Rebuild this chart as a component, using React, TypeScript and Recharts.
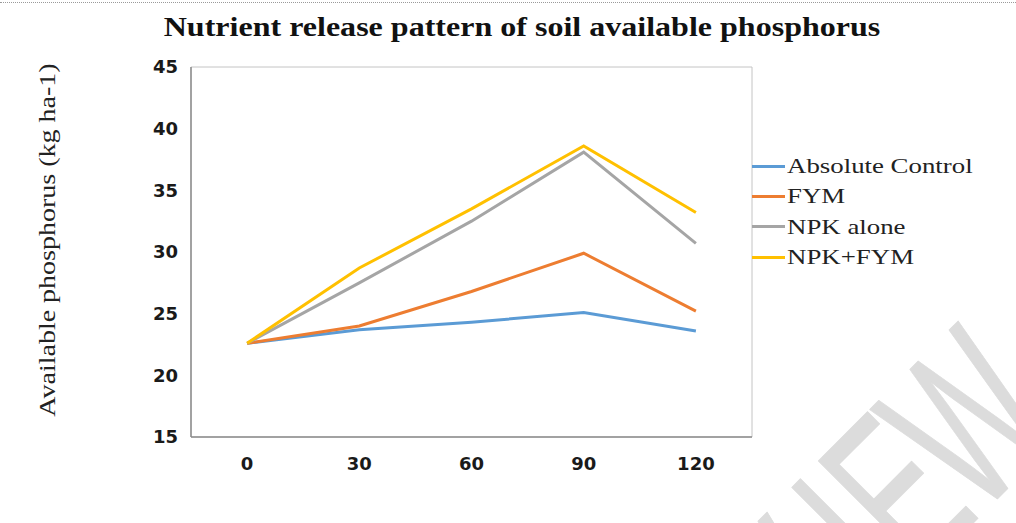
import { LineChart, Line, XAxis, YAxis, ReferenceArea } from 'recharts'

// days after incubation
const days = ['0', '30', '60', '90', '120']

// available P (kg ha-1)
const absoluteControl = [22.6, 23.7, 24.3, 25.1, 23.6]
const fym = [22.6, 24.0, 26.8, 29.9, 25.2]
const npkAlone = [22.6, 27.5, 32.5, 38.1, 30.7]
const npkFym = [22.6, 28.7, 33.5, 38.6, 33.2]

const yTicks = [15, 20, 25, 30, 35, 40, 45]

const SERIES = [
  { key: 'control', name: 'Absolute Control', color: '#5b9bd5', values: absoluteControl },
  { key: 'fym', name: 'FYM', color: '#ed7d31', values: fym },
  { key: 'npk', name: 'NPK alone', color: '#a5a5a5', values: npkAlone },
  { key: 'npkfym', name: 'NPK+FYM', color: '#ffc000', values: npkFym }
]

// visible part of the "REVIEW" watermark, offset along the rotated baseline
const WATERMARK = [
  { ch: 'V', at: -160 },
  { ch: 'I', at: -49 },
  { ch: 'E', at: -10 },
  { ch: 'W', at: 73 }
]

const data = days.map((day, i) => {
  const row: Record<string, string | number> = { day }
  SERIES.forEach(s => {
    row[s.key] = s.values[i]
  })
  return row
})

const tickStyle = { fill: '#1a1a1a', fontSize: 18, fontWeight: 700, fontFamily: '"DejaVu Sans", sans-serif' }

function LegendBox() {
  return (
    <div
      style={{
        position: 'absolute',
        left: 752,
        top: 151,
        fontFamily: '"Liberation Serif", serif',
        fontSize: 22,
        color: '#222'
      }}
    >
      {SERIES.map(s => (
        <div key={s.key} style={{ display: 'flex', alignItems: 'center', height: 30.3 }}>
          <div style={{ width: 33, height: 3, background: s.color, marginRight: 2 }}></div>
          <span style={{ display: 'inline-block', transform: 'scaleX(1.22)', transformOrigin: 'left center', whiteSpace: 'nowrap' }}>
            {s.name}
          </span>
        </div>
      ))}
    </div>
  )
}

export default function App() {
  return (
    <div style={{ position: 'absolute', left: 0, top: 0, width: 1016, height: 523, background: '#fff', overflow: 'hidden' }}>
      <svg width={1016} height={523} style={{ position: 'absolute', left: 0, top: 0, pointerEvents: 'none' }}>
        <g transform="translate(813 457) rotate(-45)">
          <g transform="scale(0.6 1)">
            {WATERMARK.map((w, i) => (
              <text
                key={i}
                x={w.at / 0.6}
                y={160}
                fontFamily="Liberation Sans, sans-serif"
                fontSize={223}
                fill="#dcdcdc"
                stroke="#dcdcdc"
                strokeWidth={1}
                strokeLinejoin="round"
              >
                {w.ch}
              </text>
            ))}
          </g>
        </g>
      </svg>
      <div style={{ position: 'absolute', left: 0, top: 2, width: 1016, borderTop: '1px dotted #9a9a9a' }}></div>
      <div
        style={{
          position: 'absolute',
          left: 522,
          top: 27,
          transform: 'translate(-50%, -50%) scaleX(1.144)',
          whiteSpace: 'nowrap',
          fontFamily: '"Liberation Serif", serif',
          fontWeight: 700,
          fontSize: 28,
          color: '#111'
        }}
      >
        Nutrient release pattern of soil available phosphorus
      </div>
      <div
        style={{
          position: 'absolute',
          left: 47,
          top: 240,
          transform: 'translate(-50%, -50%) rotate(-90deg) scaleX(1.167)',
          whiteSpace: 'nowrap',
          fontFamily: '"Liberation Serif", serif',
          fontSize: 24,
          color: '#222'
        }}
      >
        Available phosphorus (kg ha-1)
      </div>
      <div style={{ position: 'absolute', left: 0, top: 0 }}>
        <LineChart width={1016} height={523} data={data} margin={{ top: 67, right: 264, left: 131, bottom: 56 }}>
          <XAxis
            dataKey="day"
            scale="band"
            axisLine={{ stroke: '#8c8c8c', strokeWidth: 1.5 }}
            tickLine={false}
            tickSize={6}
            tickMargin={14}
            height={30}
            tick={tickStyle}
          />
          <YAxis
            domain={[15, 45]}
            ticks={yTicks}
            axisLine={{ stroke: '#8c8c8c', strokeWidth: 1.5 }}
            tickLine={false}
            tickSize={6}
            tickMargin={7}
            width={60}
            tick={tickStyle}
          />
          <ReferenceArea x1="0" x2="120" y1={15} y2={45} fill="none" stroke="#c4c4c4" strokeWidth={1} />
          {SERIES.map(s => (
            <Line
              key={s.key}
              dataKey={s.key}
              name={s.name}
              stroke={s.color}
              strokeWidth={3}
              dot={false}
              isAnimationActive={false}
            />
          ))}
        </LineChart>
      </div>
      <LegendBox />
    </div>
  )
}
